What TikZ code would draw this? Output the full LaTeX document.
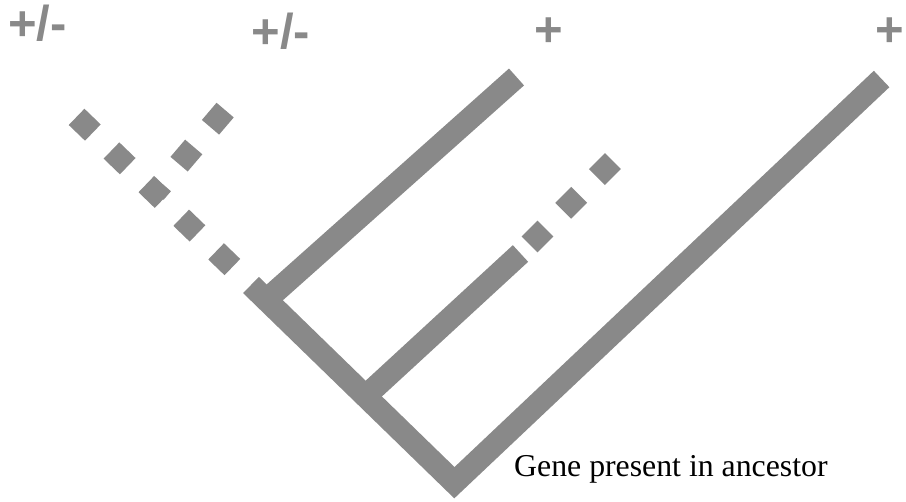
\documentclass[tikz,border=0pt]{standalone}
\usepackage{fontspec}
\setmainfont{Liberation Serif}
\newfontfamily\labelfont{Liberation Sans}
\usetikzlibrary{calc}
\definecolor{treegray}{RGB}{137,137,137}
\begin{document}
\begin{tikzpicture}[x=1pt,y=-1pt,
  branch/.style={draw=treegray, line width=22.6pt, line cap=butt, line join=miter},
  dotbranch/.style={branch, dash pattern=on 22.6pt off 25.85pt},
  sign/.style={text=treegray, font=\labelfont\bfseries\fontsize{49}{49}\selectfont, inner sep=0pt},
  caption/.style={font=\fontsize{31.8}{32}\selectfont, inner sep=0pt, anchor=base west}]
\useasboundingbox (0,0) rectangle (906,502);
% tree points
\coordinate (R) at (454.4,482.7);
\coordinate (A1) at (251,285);
\coordinate (J1) at (266.3,299.9);
\coordinate (J2) at (365.5,396.2);
\coordinate (T2) at (516.5,77);
\coordinate (T4) at (881.6,79);
\coordinate (Mend) at (520.5,253.5);
\coordinate (X) at ($(A1)!133.35pt!(85,125)$);
\coordinate (L1) at ($(A1)!242.25pt!(85,125)$);
\coordinate (L2) at ($(X)!108.2pt!(216.7,120)$);
\coordinate (M3) at ($(Mend)!130.75pt!(605,169)$);
% solid branches
\draw[branch] (A1) -- (R) -- (T4);
\draw[branch] (J1) -- (T2);
\draw[branch] (J2) -- (Mend);
% dotted branches
\draw[dotbranch, dash phase=22.6pt] (A1) -- (L1);
\draw[dotbranch, dash phase=11.3pt] (X) -- (L2);
\draw[branch, dash pattern=on 22.6pt off 25.1pt, dash phase=34.95pt] (Mend) -- (M3);
% labels
\node[sign] (s1) at (37.5,23.5) {+/-};
\node[sign] (s2) at (281,31) {+/-};
\node[sign] (s3) at (549,32.5) {+};
\node[sign] (s4) at (890,32.5) {+};
\node[caption] (gene) at (514,477) {Gene present in ancestor};
\end{tikzpicture}
\end{document}
